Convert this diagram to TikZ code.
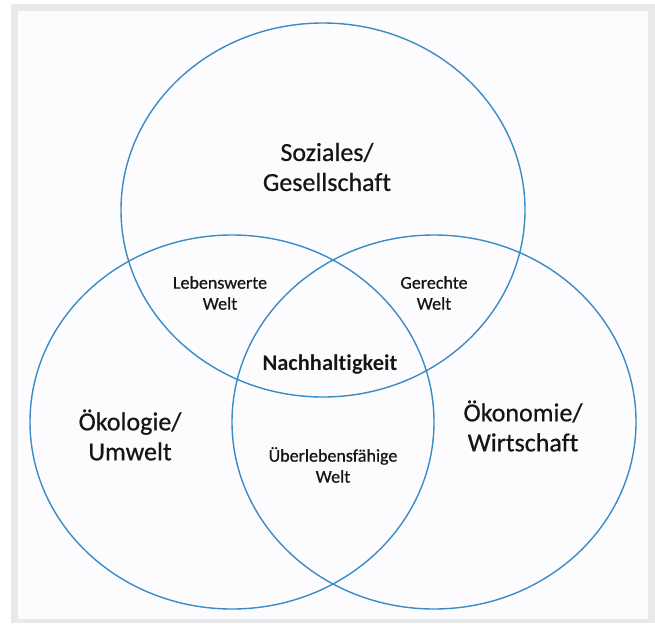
\documentclass[tikz,border=0pt]{standalone}
\usepackage{fontspec}
\setmainfont{Carlito}[Ligatures=NoCommon, UprightFeatures={FakeBold=0.6}]
\definecolor{frame}{HTML}{E8E9EB}
\definecolor{paper}{HTML}{FCFCFE}
\definecolor{ring}{HTML}{3A8BC6}
\definecolor{ink}{HTML}{151515}
\tikzset{
  ringline/.style={draw=ring, line width=1.4pt},
  biglabel/.style={align=center, text=ink, inner sep=0pt, font=\fontsize{26}{30}\selectfont},
  smalllabel/.style={align=center, text=ink, inner sep=0pt, font=\fontsize{18}{21}\selectfont},
  corelabel/.style={align=center, text=ink, inner sep=0pt, font=\fontsize{22.5}{26}\selectfont\bfseries},
}
\begin{document}
\begin{tikzpicture}[x=1pt,y=-1pt]
\useasboundingbox (0,0) rectangle (655,623);
\fill[white] (0,0) rectangle (655,623);
\fill[frame] (11,4) rectangle (655,623);
\fill[paper] (18,11) rectangle (648,619);
% circles
\draw[ringline] (323,210) ellipse [x radius=202pt, y radius=187pt];
\draw[ringline] (232,422) ellipse [x radius=202pt, y radius=187pt];
\draw[ringline] (434,422) ellipse [x radius=202pt, y radius=187pt];
% labels
\node[biglabel] (soz) at (327,167) {Soziales/\\Gesellschaft};
\node[biglabel] (oek) at (130,435) {Ökologie/\\Umwelt};
\node[biglabel] (oko) at (523,426) {Ökonomie/\\Wirtschaft};
\node[smalllabel] (leb) at (220,293) {Lebenswerte\\Welt};
\node[smalllabel] (ger) at (434,293) {Gerechte\\Welt};
\node[corelabel] (nach) at (330,365) {Nachhaltigkeit};
\node[smalllabel] (ueb) at (333,465) {Überlebensfähige\\Welt};
\end{tikzpicture}
\end{document}
